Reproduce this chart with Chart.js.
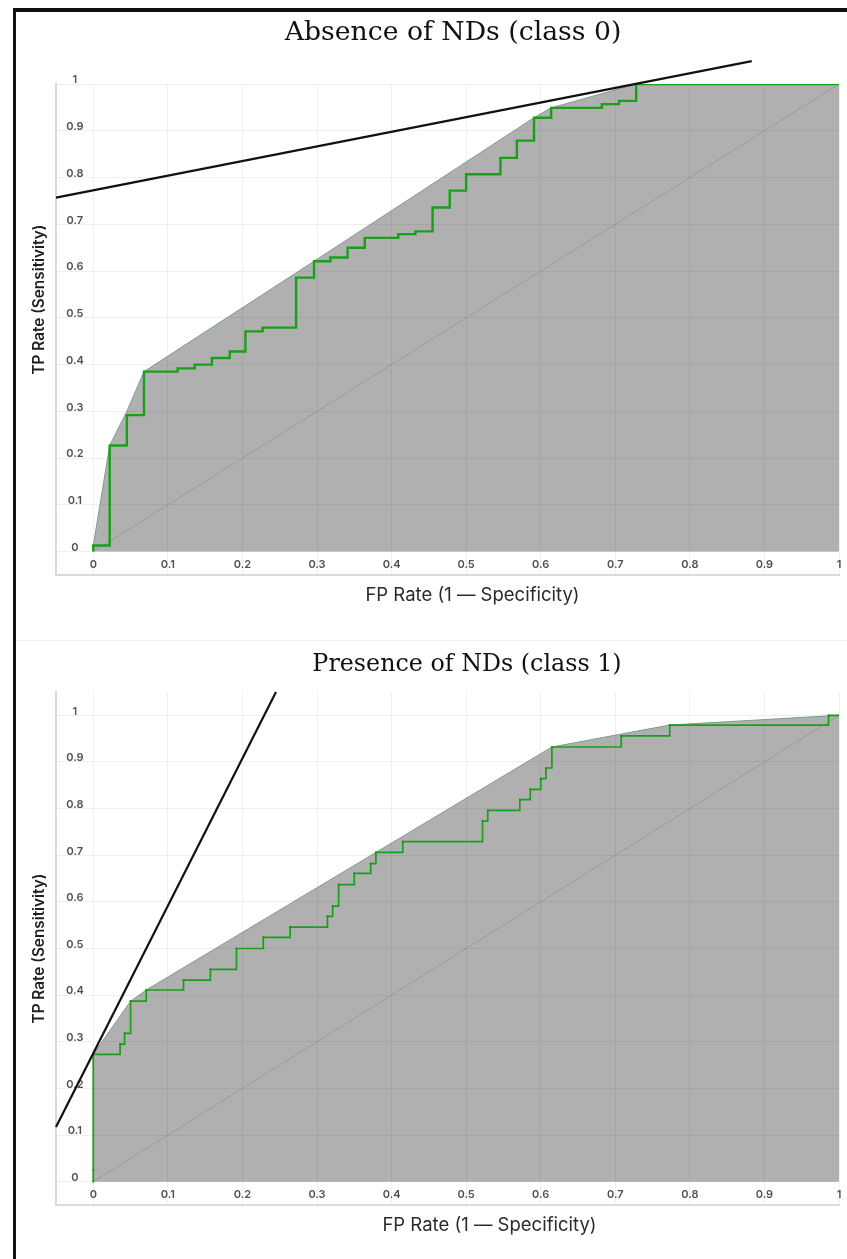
<!DOCTYPE html>
<html><head><meta charset="utf-8">
<script src="https://cdn.jsdelivr.net/npm/chart.js@4.4.1/dist/chart.umd.min.js"></script>
<style>
html,body{margin:0;padding:0;background:#fff;overflow:hidden;width:847px;height:1259px;}
#wrap{position:relative;width:847px;height:1259px;overflow:hidden;}
canvas{position:absolute;left:0;}
#c0{top:0;}
#c1{top:641px;}
#sep{position:absolute;left:16px;top:640px;width:831px;height:1px;background:#f0f0f0;}
#frame{position:absolute;left:13px;top:8px;width:900px;height:1300px;border-left:3px solid #111;border-top:4px solid #111;pointer-events:none;}
</style></head><body>
<div id="wrap">
<canvas id="c0" width="847" height="640"></canvas>
<div id="sep"></div>
<canvas id="c1" width="847" height="618"></canvas>
<div id="frame"></div>
</div>
<script>
// ---- shared axis ticks ----
const tickValues = [0, 0.1, 0.2, 0.3, 0.4, 0.5, 0.6, 0.7, 0.8, 0.9, 1];
const tickLabels = ['0', '0.1', '0.2', '0.3', '0.4', '0.5', '0.6', '0.7', '0.8', '0.9', '1'];
const xTitle = 'FP Rate (1 \u2014 Specificity)';
const yTitle = 'TP Rate (Sensitivity)';

// ---- class 0 : Absence of NDs ----
const title0 = 'Absence of NDs (class 0)';
const rocX0 = [0, 0, 0.022, 0.045, 0.068, 0.113, 0.136, 0.159, 0.183, 0.204, 0.227, 0.272, 0.296, 0.318, 0.341, 0.364, 0.409, 0.432, 0.455, 0.478, 0.500, 0.546, 0.568, 0.591, 0.614, 0.682, 0.705, 0.728, 1];
const rocY0 = [0, 0.013, 0.227, 0.292, 0.385, 0.392, 0.400, 0.414, 0.428, 0.471, 0.479, 0.586, 0.621, 0.629, 0.650, 0.671, 0.679, 0.685, 0.736, 0.772, 0.807, 0.842, 0.879, 0.928, 0.949, 0.957, 0.964, 1.0, 1];
const hullX0 = [0, 0, 0.022, 0.045, 0.068, 0.296, 0.591, 0.614, 0.728, 1];
const hullY0 = [0, 0.013, 0.227, 0.300, 0.385, 0.621, 0.928, 0.949, 1.0, 1];
const tangentX0 = [-0.05, 0.883];
const tangentY0 = [0.757, 1.049];

// ---- class 1 : Presence of NDs ----
const title1 = 'Presence of NDs (class 1)';
const rocX1 = [0, 0, 0, 0.036, 0.042, 0.050, 0.071, 0.121, 0.157, 0.192, 0.228, 0.264, 0.314, 0.321, 0.329, 0.350, 0.372, 0.379, 0.415, 0.522, 0.529, 0.572, 0.586, 0.600, 0.607, 0.615, 0.708, 0.773, 0.986, 1];
const rocY1 = [0, 0.025, 0.273, 0.295, 0.318, 0.387, 0.411, 0.432, 0.455, 0.500, 0.524, 0.546, 0.569, 0.591, 0.637, 0.661, 0.682, 0.706, 0.729, 0.773, 0.796, 0.819, 0.841, 0.864, 0.887, 0.932, 0.956, 0.979, 1.0, 1];
const hullX1 = [0, 0, 0.050, 0.071, 0.379, 0.615, 0.773, 1];
const hullY1 = [0, 0.273, 0.387, 0.411, 0.706, 0.932, 0.979, 1];
const tangentX1 = [-0.05, 0.245];
const tangentY1 = [0.117, 1.05];

// chance diagonal
const diagX = [0, 1];
const diagY = [0, 1];

const pts = (xs, ys) => xs.map((x, i) => ({x: x, y: ys[i]}));

function shiftTitle(scale, keyA, keyB, d) {
  if (!scale || !d || scale._titlePatched) return;
  const orig = scale.drawTitle.bind(scale);
  scale.drawTitle = function () {
    const a = this[keyA], b = this[keyB];
    this[keyA] = a + d; this[keyB] = b + d;
    orig();
    this[keyA] = a; this[keyB] = b;
  };
  scale._titlePatched = true;
}

const layoutTweak = {
  id: 'layoutTweak',
  afterLayout(chart, args, opts) {
    const tb = chart.titleBlock;
    if (tb && opts && opts.dx) { tb.left += opts.dx; tb.right += opts.dx; }
    shiftTitle(chart.scales.y, 'top', 'bottom', opts.yTitleDy);
    shiftTitle(chart.scales.x, 'left', 'right', opts.xTitleDx);
  }
};

function makeChart(id, cfg) {
  const tickFont = {family: 'Inter', size: 11, weight: '600'};
  const axisTitleFont = {family: 'Inter', size: 18.5, weight: '400'};
  return new Chart(document.getElementById(id), {
    type: 'scatter',
    plugins: [layoutTweak],
    data: {
      datasets: [
        {
          label: 'Tangent', data: pts(cfg.tx, cfg.ty), showLine: true,
          borderColor: '#111', borderWidth: 2.2, pointRadius: 0, clip: false
        },
        {
          label: 'ROC', data: pts(cfg.rx, cfg.ry), showLine: true, stepped: 'before',
          borderColor: '#18a018', borderWidth: cfg.rocW, pointRadius: cfg.ptR,
          pointBackgroundColor: '#1a8a1a', pointBorderWidth: 0, pointStyle: 'rect'
        },
        {
          label: 'Chance', data: pts(diagX, diagY), showLine: true,
          borderColor: 'rgba(0,0,0,0.13)', borderWidth: 1, pointRadius: 0
        },
        {
          label: 'Convex hull', data: pts(cfg.hx, cfg.hy), showLine: true,
          borderColor: '#7c9c8c', borderWidth: 1, pointRadius: 0,
          fill: 'origin', backgroundColor: 'rgba(0,0,0,0.31)'
        }
      ]
    },
    options: {
      responsive: false,
      animation: false,
      events: [],
      layout: {padding: {left: 30, right: 8, top: 0, bottom: cfg.padBottom}},
      plugins: {
        legend: {display: false},
        tooltip: {enabled: false},
        layoutTweak: {dx: cfg.dx, yTitleDy: cfg.yTitleDy, xTitleDx: cfg.xTitleDx},
        title: {
          display: true, text: cfg.title, color: '#111',
          font: {family: 'DejaVu Serif', size: cfg.titleSize, weight: 'normal', lineHeight: 1.2},
          padding: {top: cfg.tPadTop, bottom: cfg.tPadBottom}
        }
      },
      scales: {
        x: {
          type: 'linear', min: -0.05, max: 1,
          afterFit: s => { s.height = cfg.xAxisH; },
          afterBuildTicks: s => { s.ticks = tickValues.map(v => ({value: v})); },
          grid: {color: '#efefef', lineWidth: 1, drawTicks: false},
          border: {color: '#dadada', width: 2},
          ticks: {
            mirror: true, padding: 4, color: '#505050', font: tickFont, maxRotation: 0,
            callback: (v, i) => tickLabels[i]
          },
          title: {display: true, text: xTitle, color: '#2a2a2a', font: axisTitleFont, padding: 0}
        },
        y: {
          type: 'linear', min: -0.05, max: cfg.yMax,
          afterFit: s => { s.width = 26; },
          afterBuildTicks: s => { s.ticks = tickValues.map(v => ({value: v})); },
          grid: {color: '#efefef', lineWidth: 1, drawTicks: false},
          border: {color: '#dadada', width: 2},
          ticks: {
            mirror: true, padding: 10, crossAlign: 'center', labelOffset: -4,
            color: '#505050', font: tickFont,
            callback: (v, i) => tickLabels[i]
          },
          title: {display: true, text: yTitle, color: '#1e1e1e', font: {family: 'Inter', size: 15.3, weight: '600'}, padding: 0}
        }
      }
    }
  });
}

makeChart('c0', {
  title: title0, rx: rocX0, ry: rocY0, hx: hullX0, hy: hullY0, tx: tangentX0, ty: tangentY0,
  yMax: 1, rocW: 2.4, ptR: 0, dx: 18.5, yTitleDy: -30, xTitleDx: 25, titleSize: 26.7,
  tPadTop: 17, tPadBottom: 35, xAxisH: 31.1, padBottom: 33.9
});
makeChart('c1', {
  title: title1, rx: rocX1, ry: rocY1, hx: hullX1, hy: hullY1, tx: tangentX1, ty: tangentY1,
  yMax: 1.05, rocW: 1.7, ptR: 1.2, dx: 32.5, yTitleDy: 0, xTitleDx: 42, titleSize: 23.8,
  tPadTop: 9.7, tPadBottom: 12.7, xAxisH: 31.1, padBottom: 22.9
});
</script>
</body></html>
